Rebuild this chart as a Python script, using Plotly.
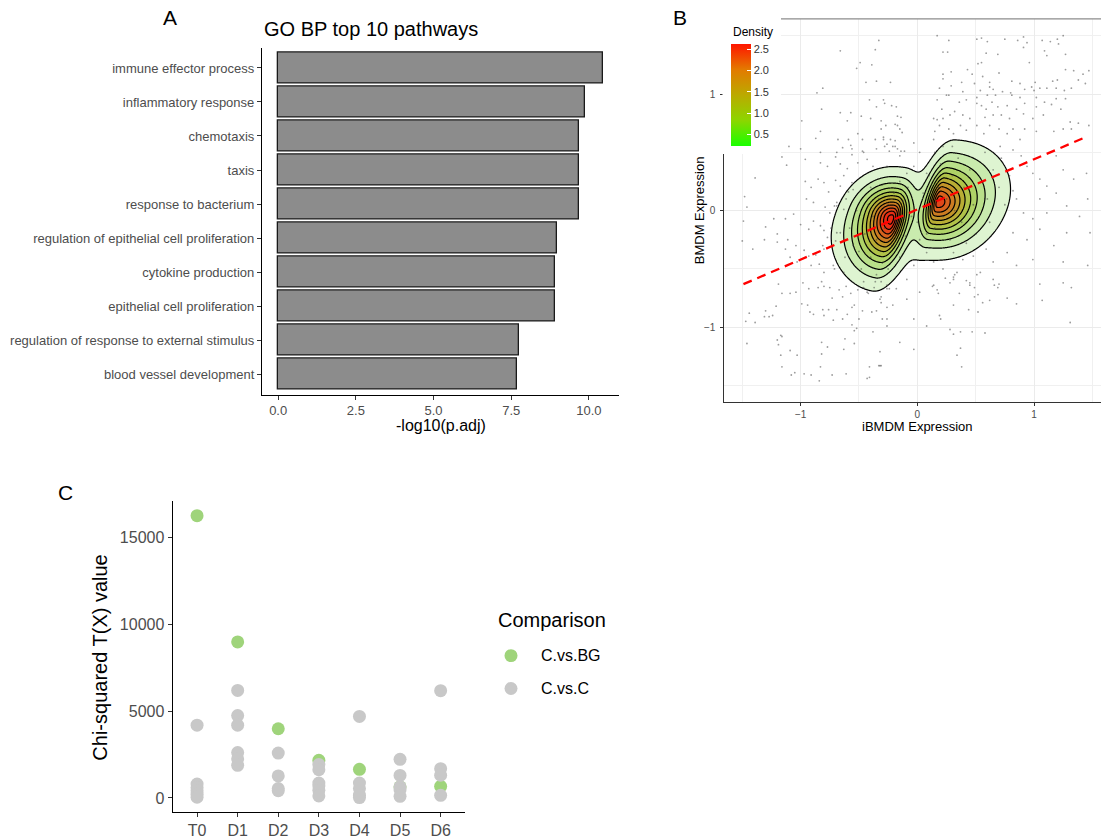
import numpy as np
import plotly.graph_objects as go

W, H = 1101, 839
def px(x): return x / W
def py(y): return 1 - y / H

FONT = "Liberation Sans, Arial, sans-serif"

# ---------------- Panel A data ----------------
pathways = ["immune effector process", "inflammatory response", "chemotaxis", "taxis",
            "response to bacterium", "regulation of epithelial cell proliferation",
            "cytokine production", "epithelial cell proliferation",
            "regulation of response to external stimulus", "blood vessel development"]
neglog10_padj = [10.45, 9.88, 9.68, 9.68, 9.68, 8.99, 8.92, 8.90, 7.74, 7.68]
a_ticks = [0, 2.5, 5.0, 7.5, 10.0]

# ---------------- Panel B data ----------------
b_x = [0.17,0.27,0.51,0.55,0.60,0.75,0.86,0.91,0.94,1.07,1.14,1.20,1.21,1.25,0.22,0.26,0.59,0.69,0.91,1.09,
       1.11,1.27,0.43,0.55,0.52,0.29,0.22,0.47,0.56,0.70,0.96,1.27,1.34,1.42,1.47,0.22,0.38,0.49,0.62,0.81,
       0.88,1.01,1.16,1.20,1.38,1.44,0.19,0.29,0.39,0.54,0.62,0.65,0.73,0.80,0.92,0.98,1.00,1.05,1.11,1.19,
       1.26,1.32,0.27,0.25,0.51,0.60,0.67,0.81,0.88,1.02,1.19,1.27,0.17,0.21,0.36,0.42,0.51,0.55,0.59,0.64,
       0.69,0.77,0.85,0.92,1.02,1.09,1.15,1.23,0.14,0.17,0.22,0.28,0.32,0.39,0.45,0.58,0.65,0.72,0.79,0.91,
       0.99,1.08,1.31,1.38,1.47,0.15,0.19,0.27,0.31,0.37,0.42,0.51,0.57,0.62,0.70,0.77,0.82,0.92,1.02,1.17,
       1.25,1.32,
       -0.33,-0.36,-0.66,-0.49,-0.39,-0.52,-0.35,-0.44,-0.23,-0.81,-0.86,-0.41,-0.29,-0.28,-0.35,-0.22,-0.18,-0.82,-0.66,-0.57,
       -0.48,-0.40,-0.17,-0.14,-0.99,-0.60,-0.31,-0.19,-0.27,-0.17,-0.83,-0.31,-0.15,-0.13,-0.51,-0.29,-0.87,-0.68,-0.59,-0.47,
       -0.36,-0.29,-0.23,-0.19,-0.26,-0.57,-0.64,-0.56,-0.35,-0.28,-0.19,-1.10,-1.00,-0.83,-0.69,-0.47,-0.17,-0.14,-0.11,-0.24,
       -1.16,-1.12,-1.39,-1.48,-0.96,-0.83,-0.77,-0.70,-0.66,-0.60,-0.56,-0.51,-0.46,-0.96,-0.91,-0.85,-0.80,-0.76,-0.70,-0.66,
       -0.63,-0.59,-0.56,-0.95,-0.89,-0.79,-0.71,-0.69,-0.63,-1.46,-1.49,-1.23,-1.13,-1.06,-1.00,-0.93,-0.89,-0.83,-0.80,-0.74,
       -1.30,-1.20,-1.11,-1.04,-0.97,-0.93,-0.87,-0.80,-1.50,-1.41,-1.31,-1.20,-1.13,-1.09,-1.03,-0.91,-0.84,-0.80,-0.71,-0.66,
       -0.77,-0.70,
       -1.19,-1.16,-1.04,-1.09,-1.21,-1.30,-1.44,-1.31,-1.27,-1.24,-1.47,-1.39,-0.98,-0.93,-0.85,-0.82,-0.80,-0.75,-0.73,-0.67,
       -0.64,-0.61,-0.57,-0.51,-0.46,-0.42,-0.94,-0.99,-0.92,-0.89,-0.81,-0.80,-0.76,-0.72,-0.69,-0.64,-0.60,-0.56,-0.54,-0.50,
       -0.47,-0.39,-0.35,-0.30,-0.26,-0.31,-0.26,-0.31,-0.26,-0.46,-0.37,-0.36,-0.31,-0.24,-0.56,-0.54,-0.52,-0.62,-0.54,-0.63,
       -0.82,-0.77,-0.82,-0.83,-0.84,-0.73,-0.61,-0.97,-0.91,-1.05,-1.08,-1.16,-1.17,-1.09,-1.03,-1.19,-1.20,-1.17,-1.16,-1.46,
       -0.41,-0.33,-0.31,-0.41,
       0.24,0.31,0.31,0.32,0.28,0.42,0.45,0.45,0.51,0.65,0.66,0.69,0.70,0.13,0.17,0.18,0.36,0.49,0.49,0.52,
       0.62,0.56,0.77,0.85,0.44,0.52,0.20,0.28,0.31,0.47,0.58,0.37,0.34,0.38,1.05,1.25,1.32,1.07,1.31,
       0.89,0.94,0.99,1.05,1.11,1.19,1.25,1.34,1.45,1.46,0.85,0.91,0.99,1.05,1.11,1.19,1.28,1.39,0.82,0.94,
       1.05,1.17,1.28,1.48,0.77,0.85,0.99,1.25,1.46,0.82,0.71,0.88,0.79,0.82,
       0.31,0.39,0.48,0.59,0.65,0.14,0.22,0.34,0.54,0.02,0.08,-0.03,-0.09,-0.18,-0.26,-0.32,-0.43,-0.21,-0.09,0.02,
       0.14,-0.03,0.08,-0.26,-0.38,-0.15,-0.32,-0.03,0.19,0.31,0.37,-0.43,-0.32,
       -0.26,-0.15,-0.03,0.02,0.08,-0.09,-0.38,-0.43,-0.21,-0.03,0.14,0.22,
       -0.75,-0.69,-0.81,-0.63,-0.72,-0.61,-0.69,-0.55,
       -0.50,-0.45,-0.40,-0.38,-0.35,-0.33,-0.30,-0.28,-0.25,-0.22,-0.20,-0.18,-0.15,-0.12,-0.10,-0.08,-0.05,-0.30,-0.42,-0.55,
       -0.58,-0.48,-0.35,-0.62,-0.25,-0.15,-0.40,-0.52,
       0.00,0.05,0.08,0.10,0.12,0.15,0.18,0.20,0.22,0.25,0.28,0.30,0.32,0.35,0.38,0.40,0.45,0.48,0.50,0.55,
       0.58,0.60,0.65,0.70,0.72,0.42,0.15,0.30,0.62,0.75]
b_y = [1.50,1.46,1.47,1.48,1.45,1.47,1.46,1.49,1.44,1.46,1.45,1.47,1.43,1.50,1.36,1.36,1.35,1.34,1.40,1.37,
       1.33,1.34,1.21,1.27,1.26,1.19,1.17,1.17,1.15,1.18,1.27,1.21,1.20,1.17,1.20,1.13,1.10,1.09,1.10,1.11,
       1.09,1.10,1.11,1.12,1.12,1.09,1.05,1.07,1.02,1.03,1.06,1.04,1.02,1.01,1.04,1.06,1.03,1.05,1.05,1.05,
       1.03,1.05,0.99,0.99,0.97,0.99,0.99,0.99,0.97,0.97,0.96,0.96,0.95,0.87,0.93,0.95,0.92,0.90,0.87,0.93,
       0.89,0.90,0.87,0.92,0.89,0.93,0.91,0.87,0.79,0.78,0.79,0.82,0.85,0.82,0.79,0.80,0.82,0.82,0.79,0.83,
       0.79,0.82,0.76,0.75,0.73,0.68,0.73,0.70,0.66,0.73,0.69,0.73,0.66,0.73,0.70,0.66,0.70,0.70,0.68,0.68,
       0.70,0.70,
       1.46,1.38,1.37,1.27,1.25,1.22,1.11,1.10,1.10,1.05,1.01,0.95,0.95,0.92,0.89,0.90,0.89,0.87,0.84,0.84,
       0.81,0.79,0.81,0.80,0.77,0.77,0.77,0.74,0.73,0.73,0.68,0.70,0.70,0.67,0.66,0.63,0.62,0.61,0.61,0.61,
       0.61,0.61,0.61,0.60,0.57,0.56,0.54,0.53,0.53,0.55,0.55,0.55,0.53,0.50,0.50,0.51,0.53,0.51,0.51,0.51,
       0.46,0.39,0.28,0.12,0.44,0.41,0.38,0.46,0.40,0.36,0.48,0.41,0.50,0.25,0.20,0.27,0.24,0.16,0.26,0.21,
       0.30,0.16,0.24,0.10,0.07,0.03,0.04,0.07,0.01,0.03,-0.09,-0.07,-0.07,-0.03,-0.12,-0.16,-0.09,-0.13,-0.17,-0.15,
       -0.14,-0.20,-0.25,-0.30,-0.34,-0.39,-0.38,-0.33,-0.26,-0.33,-0.25,-0.27,-0.33,-0.40,-0.44,-0.47,-0.46,-0.53,-0.50,-0.19,
       -0.23,-0.26,
       -0.63,-0.71,-0.70,-0.71,-0.82,-0.86,-0.88,-0.91,-0.91,-0.90,-0.95,-0.96,-0.62,-0.67,-0.66,-0.61,-0.65,-0.66,-0.75,-0.68,
       -0.74,-0.65,-0.71,-0.68,-0.66,-0.71,-0.81,-0.80,-0.87,-0.89,-0.85,-0.90,-0.85,-0.94,-0.85,-0.93,-0.89,-0.83,-0.81,-0.93,
       -0.86,-0.87,-0.86,-0.93,-0.93,-0.79,-0.83,-0.74,-0.67,-0.61,-0.66,-0.61,-0.61,-0.67,-0.98,-1.03,-1.01,-1.10,-1.14,-1.19,
       -1.13,-1.17,-1.23,-1.34,-1.46,-1.41,-1.40,-1.40,-1.41,-1.39,-1.41,-1.34,-1.24,-1.20,-1.24,-1.15,-1.11,-1.07,-1.08,-1.14,
       -1.34,-1.33,-1.33,-1.43,
       -0.58,-0.57,-0.59,-0.55,-0.62,-0.60,-0.62,-0.64,-0.55,-0.59,-0.64,-0.66,-0.63,-0.65,-0.68,-0.71,-0.71,-0.66,-0.74,-0.72,
       -0.77,-0.79,-0.75,-0.80,-0.85,-0.87,-0.93,-1.02,-1.06,-1.04,-1.05,-1.18,-1.24,-1.34,-0.63,-0.62,-0.66,-0.77,-0.96,
       0.47,0.38,0.32,0.27,0.21,0.47,0.35,0.27,0.32,0.10,0.10,-0.02,-0.07,0.10,-0.02,0.15,0.04,-0.05,-0.19,-0.25,
       -0.16,-0.30,-0.19,-0.19,-0.36,-0.47,-0.42,-0.44,-0.47,0.52,0.55,0.61,0.30,0.17,
       -0.36,-0.42,-0.39,-0.33,-0.44,-0.44,-0.50,-0.53,-0.53,-0.25,-0.36,-0.47,-0.59,-0.67,-0.64,-0.76,-0.70,-0.81,-0.76,-0.70,
       -0.64,-0.93,-0.99,-0.99,-1.04,-1.13,-1.21,-1.19,-0.90,-0.81,-1.04,-1.44,-1.33,
       0.38,0.47,0.38,0.50,0.32,0.32,0.38,0.44,0.55,0.58,0.61,0.55,
       -0.02,-0.19,-0.30,-0.53,-0.47,0.10,0.04,0.18,
       -0.35,-0.20,-0.40,-0.05,-0.25,0.10,-0.45,-0.15,0.05,-0.30,0.15,-0.10,-0.40,0.08,-0.22,0.20,-0.05,0.22,0.05,-0.30,
       -0.15,-0.50,-0.55,-0.40,-0.50,0.25,0.20,0.00,
       -0.10,0.15,-0.20,0.30,0.00,-0.15,0.20,0.40,-0.05,0.10,-0.25,0.30,0.00,0.45,-0.10,0.20,0.35,0.05,-0.20,0.25,
       0.50,0.10,0.35,0.20,0.45,-0.28,0.50,0.55,-0.10,0.05]

fit_x = [-1.49, 1.44]
fit_slope = 0.43
fit_intercept = 0.01

# 2D density summarised from the contour rings: two skewed cores plus two broad halos
core_cx      = [-0.22, 0.18]
core_cy      = [-0.068, 0.074]
core_peak    = [2.42, 2.05]
core_theta   = [75, 75]          # direction of the long axis (degrees)
core_s_up    = [0.24, 0.28]
core_s_down  = [0.33, 0.28]
core_s_left  = [0.23, 0.10]
core_s_right = [0.12, 0.29]
core_power   = 1.5
halo_cx   = [-0.45, 0.50]
halo_cy   = [-0.25, 0.25]
halo_sd   = [0.25, 0.25]
halo_peak = [0.20, 0.25]
dens_levels = (0.2, 2.6, 0.2)
dens_bar_range = (0.227, 2.617)
dens_ticks = [0.5, 1.0, 1.5, 2.0, 2.5]

# ---------------- Panel C data ----------------
timepoints = ["T0", "D1", "D2", "D3", "D4", "D5", "D6"]
c_vs_bg = [16280, 9000, 3990, 2170, 1650, 640, 673]
c_vs_c = {
    "T0": [4200, 800, 600, 420, 220, 40],
    "D1": [6200, 4750, 4200, 2620, 2250, 1880],
    "D2": [2590, 1270, 540, 420],
    "D3": [1930, 1630, 860, 690, 440, 115],
    "D4": [4700, 860, 540, 160, 20],
    "D5": [2230, 1300, 640, 480, 96],
    "D6": [6190, 1690, 1310, 150],
}
c_yticks = [0, 5000, 10000, 15000]

GREEN = "#9FD47B"
GREY = "#C8C8C8"

fig = go.Figure()

# Panel A bars
fig.add_trace(go.Bar(
    x=neglog10_padj, y=pathways, orientation="h", width=0.9,
    marker=dict(color="#8C8C8C", line=dict(color="#1A1A1A", width=1.3)),
    xaxis="x", yaxis="y", showlegend=False, hoverinfo="skip"))

# Panel B density
gx = np.linspace(-1.1, 1.3, 361)
gy = np.linspace(-1.1, 1.2, 346)
GX, GY = np.meshgrid(gx, gy)
Z = np.zeros_like(GX)
for cx, cy, pk, th, su, sd, sl, sr in zip(core_cx, core_cy, core_peak, core_theta,
                                          core_s_up, core_s_down, core_s_left, core_s_right):
    t = np.deg2rad(th)
    u = (GX - cx) * np.cos(t) + (GY - cy) * np.sin(t)
    v = -(GX - cx) * np.sin(t) + (GY - cy) * np.cos(t)
    s_u = np.where(u >= 0, su, sd)
    s_v = np.where(v >= 0, sl, sr)
    d = np.sqrt((u / s_u) ** 2 + (v / s_v) ** 2)
    Z += pk * np.exp(-d ** core_power)
for hx, hy, hs, hp in zip(halo_cx, halo_cy, halo_sd, halo_peak):
    Z += hp * np.exp(-0.5 * ((GX - hx) ** 2 + (GY - hy) ** 2) / hs ** 2)

zmax = 2.6
band_colors = ["#E0F5D4", "#CDEDB6", "#BEE497", "#B3DA78", "#ADCD5B", "#B1BF44", "#B8AC34",
               "#C1982A", "#C98424", "#D26E1F", "#DA581C", "#E24018", "#EA2A14"]
fill_scale = [[0.0, "rgba(255,255,255,0)"]]
for k, c in enumerate(band_colors):
    fill_scale.append([(0.1 + 0.2 * k) / zmax, c])
fill_scale.append([1.0, band_colors[-1]])
fig.add_trace(go.Contour(
    x=gx, y=gy, z=Z, zmin=0, zmax=zmax, colorscale=fill_scale, showscale=False,
    contours=dict(start=dens_levels[0], end=dens_levels[1], size=dens_levels[2], coloring="fill"),
    line=dict(color="#000000", width=1.2, smoothing=1.0),
    xaxis="x2", yaxis="y2", hoverinfo="skip"))

fig.add_trace(go.Scatter(
    x=b_x, y=b_y, mode="markers",
    marker=dict(size=1.8, color="rgba(60,60,60,0.5)"),
    xaxis="x2", yaxis="y2", showlegend=False, hoverinfo="skip"))

fit_y = [fit_slope * v + fit_intercept for v in fit_x]
fig.add_trace(go.Scatter(
    x=fit_x, y=fit_y, mode="lines",
    line=dict(color="#FF0000", width=2.3, dash="9px,6px"),
    xaxis="x2", yaxis="y2", showlegend=False, hoverinfo="skip"))

bar_scale = [[0, "#1AFF00"], [0.25, "#8CD600"], [0.5, "#BBAA00"], [0.75, "#E37A00"], [1, "#FF1500"]]
fig.add_trace(go.Scatter(
    x=[-1.6, -1.6], y=[1.6, 1.6], mode="markers",
    marker=dict(size=1, color=list(dens_bar_range), colorscale=bar_scale,
                cmin=dens_bar_range[0], cmax=dens_bar_range[1], showscale=True,
                colorbar=dict(x=px(730.7), xanchor="left", y=py(44.3), yanchor="top",
                              len=102.4, lenmode="pixels", thickness=20.3, thicknessmode="pixels",
                              outlinewidth=0, xpad=0, ypad=0, borderwidth=0,
                              tickvals=dens_ticks, ticktext=[f"{t:.1f}" for t in dens_ticks],
                              ticks="inside", ticklen=4, tickcolor="white",
                              tickfont=dict(size=11, color="#333333", family=FONT))),
    xaxis="x2", yaxis="y2", showlegend=False, hoverinfo="skip"))

# Panel C points
fig.add_trace(go.Scatter(
    x=timepoints, y=c_vs_bg, mode="markers", name="C.vs.BG",
    marker=dict(size=13, color=GREEN), xaxis="x3", yaxis="y3", showlegend=False))
cx_list, cy_list = [], []
for tp in timepoints:
    for v in c_vs_c[tp]:
        cx_list.append(tp)
        cy_list.append(v)
fig.add_trace(go.Scatter(
    x=cx_list, y=cy_list, mode="markers", name="C.vs.C",
    marker=dict(size=13, color=GREY), xaxis="x3", yaxis="y3", showlegend=False))

axis_common = dict(showgrid=False, zeroline=False, showline=True, ticks="outside")

fig.update_layout(
    width=W, height=H, margin=dict(l=0, r=0, t=0, b=0),
    paper_bgcolor="white", plot_bgcolor="rgba(0,0,0,0)",
    font=dict(family=FONT, color="#000000"),
    showlegend=False, bargap=0,
    xaxis=dict(domain=[px(262), px(619)], range=[-0.52, 10.97], anchor="y",
               tickvals=a_ticks, ticktext=[f"{t:.1f}" for t in a_ticks],
               linecolor="#000000", linewidth=1.2, ticklen=4, tickcolor="#333333",
               tickfont=dict(size=13, color="#4D4D4D"), **axis_common),
    yaxis=dict(domain=[py(396), py(47.7)], type="category",
               categoryarray=pathways[::-1], range=[-0.6, 9.6], anchor="x",
               linecolor="#000000", linewidth=1.2, ticklen=4, tickcolor="#333333",
               tickfont=dict(size=13, color="#4D4D4D"), **axis_common),
    xaxis2=dict(domain=[px(724.3), 1.0], range=[-1.654, 1.574], anchor="y2",
                tick0=0, dtick=1, showgrid=True, gridcolor="#EBEBEB", gridwidth=1,
                minor=dict(tick0=0, dtick=0.5, showgrid=True, gridcolor="#F0F0F0", gridwidth=0.7),
                zeroline=False, showline=True, linecolor="#333333", linewidth=1,
                ticks="outside", ticklen=3, tickcolor="#333333",
                tickfont=dict(size=10, color="#4D4D4D")),
    yaxis2=dict(domain=[py(403), py(19)], range=[-1.638, 1.644], anchor="x2",
                tick0=0, dtick=1, showgrid=True, gridcolor="#EBEBEB", gridwidth=1,
                minor=dict(tick0=0, dtick=0.5, showgrid=True, gridcolor="#F0F0F0", gridwidth=0.7),
                zeroline=False, showline=True, linecolor="#333333", linewidth=1,
                ticks="outside", ticklen=3, tickcolor="#333333", ticklabelstandoff=3,
                tickfont=dict(size=10, color="#4D4D4D")),
    xaxis3=dict(domain=[px(172.7), px(465)], type="category", categoryarray=timepoints,
                range=[-0.6, 6.6], anchor="y3", linecolor="#000000", linewidth=1.3,
                ticklen=4, tickcolor="#333333", tickfont=dict(size=16, color="#4D4D4D"),
                **axis_common),
    yaxis3=dict(domain=[py(815), py(503)], range=[-815, 17115], anchor="x3",
                tickvals=c_yticks, ticktext=[str(t) for t in c_yticks],
                linecolor="#000000", linewidth=1.3, ticklen=4, tickcolor="#333333",
                tickfont=dict(size=16, color="#4D4D4D"), **axis_common),
)

def ann(text, x, y, size, xanchor="center", angle=0, color="#000000"):
    return dict(text=text, x=px(x), y=py(y), xref="paper", yref="paper",
                xanchor=xanchor, yanchor="middle", showarrow=False, textangle=angle,
                font=dict(size=size, color=color, family=FONT))

fig.update_layout(annotations=[
    ann("A", 170, 18, 21),
    ann("B", 680, 18, 21),
    ann("C", 65, 494, 21),
    ann("GO BP top 10 pathways", 262, 29, 20, xanchor="left"),
    ann("-log10(p.adj)", 441, 427, 16),
    ann("iBMDM Expression", 917, 428, 13),
    ann("BMDM Expression", 699, 211, 13, angle=-90),
    ann("Density", 731, 32, 12, xanchor="left"),
    ann("Chi-squared T(X) value", 100, 660, 20, angle=-90),
    ann("Comparison", 496, 622, 20, xanchor="left"),
    ann("C.vs.BG", 539, 658, 16, xanchor="left"),
    ann("C.vs.C", 539, 691, 16, xanchor="left"),
])

fig.update_layout(shapes=[
    dict(type="rect", xref="paper", yref="paper", x0=px(722.5), x1=px(781), y0=py(154.5), y1=1,
         fillcolor="white", line=dict(width=0), layer="above"),
    dict(type="line", xref="paper", yref="paper", x0=px(781), x1=1, y0=py(19), y1=py(19),
         line=dict(color="#8C8C8C", width=1.3), layer="above"),
    dict(type="circle", xref="paper", yref="paper", x0=px(504.5), x1=px(517.5),
         y0=py(664.5), y1=py(651.5), fillcolor=GREEN, line=dict(width=0)),
    dict(type="circle", xref="paper", yref="paper", x0=px(504.5), x1=px(517.5),
         y0=py(697.5), y1=py(684.5), fillcolor=GREY, line=dict(width=0)),
])

fig.write_html("out.html", config={"displayModeBar": False},
               post_script="document.body.style.margin='0';document.body.style.overflow='hidden';")
